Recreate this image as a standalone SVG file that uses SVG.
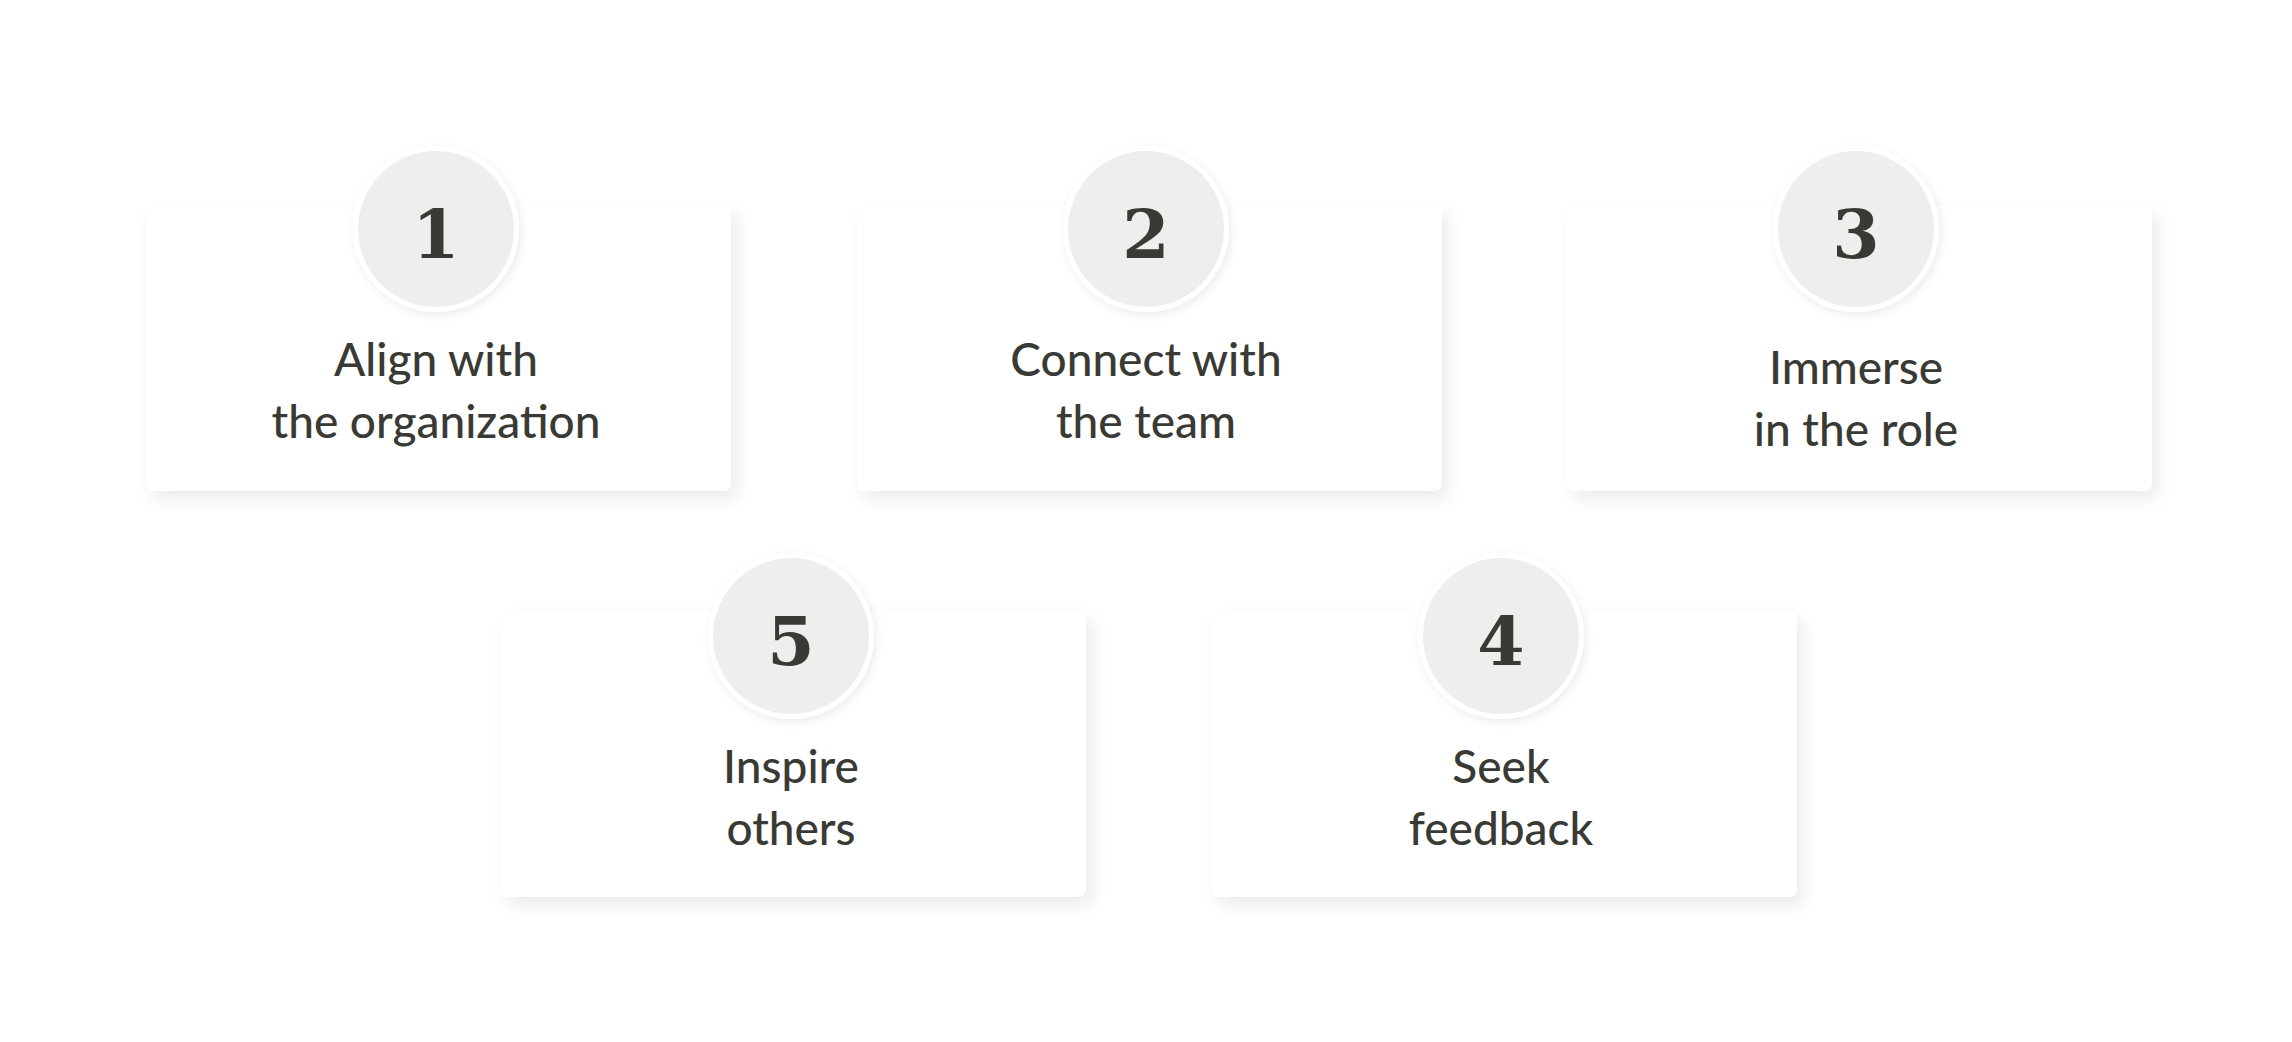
<svg xmlns="http://www.w3.org/2000/svg" width="2292" height="1042" viewBox="0 0 2292 1042">
<defs>
<filter id="sh" x="-10%" y="-10%" width="125%" height="130%"><feDropShadow dx="6" dy="8" stdDeviation="8" flood-color="#000" flood-opacity="0.08"/></filter>
<filter id="csh" x="-20%" y="-20%" width="140%" height="140%"><feDropShadow dx="2" dy="3" stdDeviation="4" flood-color="#000" flood-opacity="0.08"/></filter>
</defs>
<style>
.card{fill:#fff;filter:url(#sh)}
.ring{fill:#fff;filter:url(#csh)}
.disc{fill:#efeeec}
.num{font-family:"DejaVu Serif",serif;font-weight:bold;font-size:68px;fill:#3a3a35;text-anchor:middle}
.lbl{font-family:Lato,"Noto Sans",sans-serif;font-weight:500;font-size:46px;fill:#3a3a35;text-anchor:middle}
</style>
<rect width="2292" height="1042" fill="#fff"/>
<g id="connectors"/>
<g id="n1"><rect class="card" x="146" y="205" width="585" height="286" rx="8"/><circle class="ring" cx="436" cy="229" r="83"/><circle class="disc" cx="436" cy="229" r="78"/><text class="num" x="436" y="258">1</text><text class="lbl" x="436" y="376">Align with</text><text class="lbl" x="436" y="438">the organization</text></g>
<g id="n2"><rect class="card" x="857" y="205" width="585" height="286" rx="8"/><circle class="ring" cx="1146" cy="229" r="83"/><circle class="disc" cx="1146" cy="229" r="78"/><text class="num" x="1146" y="258">2</text><text class="lbl" x="1146" y="376">Connect with</text><text class="lbl" x="1146" y="438">the team</text></g>
<g id="n3"><rect class="card" x="1567" y="205" width="585" height="286" rx="8"/><circle class="ring" cx="1856" cy="229" r="83"/><circle class="disc" cx="1856" cy="229" r="78"/><text class="num" x="1856" y="258">3</text><text class="lbl" x="1856" y="384">Immerse</text><text class="lbl" x="1856" y="446">in the role</text></g>
<g id="n5"><rect class="card" x="501" y="611" width="585" height="286" rx="8"/><circle class="ring" cx="791" cy="636" r="83"/><circle class="disc" cx="791" cy="636" r="78"/><text class="num" x="791" y="665">5</text><text class="lbl" x="791" y="783">Inspire</text><text class="lbl" x="791" y="845">others</text></g>
<g id="n4"><rect class="card" x="1212" y="611" width="585" height="286" rx="8"/><circle class="ring" cx="1501" cy="636" r="83"/><circle class="disc" cx="1501" cy="636" r="78"/><text class="num" x="1501" y="665">4</text><text class="lbl" x="1501" y="783">Seek</text><text class="lbl" x="1501" y="845">feedback</text></g>
</svg>
